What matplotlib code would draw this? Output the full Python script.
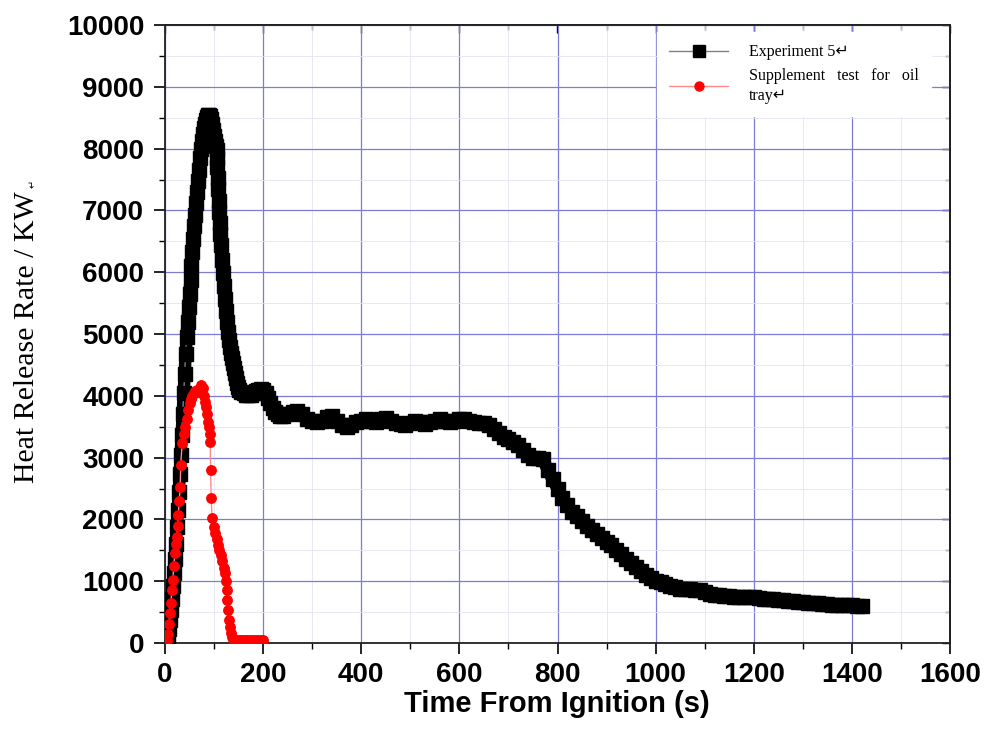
import matplotlib
matplotlib.use("Agg")
import matplotlib.pyplot as plt
from matplotlib.ticker import MultipleLocator, NullFormatter
from matplotlib.font_manager import FontProperties

# ---------------- data ----------------
exp5_time = [4, 6, 8, 10, 12, 14, 16, 18, 20, 22, 24, 26, 28, 30, 32, 34, 36, 38, 40, 42,
             44, 46, 48, 50, 52, 54, 56, 58, 60, 62, 64, 66, 68, 70, 72, 74, 76, 78, 80, 82,
             84, 86, 88, 90, 92, 94, 96, 98, 100, 102, 104,
             105, 106, 107, 108, 109, 110, 111, 112, 113, 114,
             116, 118, 120, 122, 124, 126, 128, 130, 132, 134, 136, 138, 140, 142, 144, 146, 148, 150,
             155, 160, 165, 170, 175, 180, 185, 190, 195, 200, 205, 210, 215, 220, 225, 230, 235, 240,
             250, 260, 270, 280, 290, 300, 310, 320, 330, 340, 350, 360, 370, 380, 390, 400,
             410, 420, 430, 440, 450, 460, 470, 480, 490, 500, 510, 520, 530, 540, 550, 560,
             570, 580, 590, 600, 610, 620, 630, 640, 650, 660, 670, 680, 690, 700, 710, 720,
             730, 740, 750, 760, 770, 780, 790, 800, 810, 820, 830, 840, 850, 860, 870, 880,
             890, 900, 910, 920, 930, 940, 950, 960, 970, 980, 990, 1000, 1010, 1020, 1030, 1040,
             1050, 1060, 1070, 1080, 1090, 1100, 1110, 1120, 1130, 1140, 1150, 1160, 1170, 1180,
             1190, 1200, 1210, 1220, 1230, 1240, 1250, 1260, 1270, 1280, 1290, 1300, 1310, 1320,
             1330, 1340, 1350, 1360, 1370, 1380, 1390, 1400, 1410, 1420]
exp5_hrr = [0, 100, 230, 380, 540, 720, 920, 1130, 1360, 1600, 1870, 2150, 2440, 2740, 3050, 3370,
            3700, 4040, 4360, 4670, 4950, 5200, 5430, 5650, 5870, 6100, 6330, 6540, 6740, 6930,
            7120, 7300, 7480, 7660, 7840, 8000, 8130, 8240, 8330, 8400, 8460, 8510, 8540, 8550,
            8530, 8480, 8400, 8300, 8200, 8120, 8040,
            7980, 7850, 7700, 7520, 7340, 7160, 6980, 6800, 6620, 6440,
            6200, 5980, 5770, 5570, 5380, 5200, 5040, 4900, 4790, 4690, 4610, 4530, 4450, 4370,
            4290, 4210, 4140, 4090,
            4060, 4040, 4020, 4010, 4020, 4040, 4070, 4100, 4110, 4090, 4040, 3960, 3880, 3800,
            3740, 3700, 3680, 3670,
            3700, 3740, 3760, 3700, 3620, 3600, 3580, 3600, 3650, 3680, 3600, 3520, 3500, 3520,
            3580, 3600, 3620, 3600, 3580, 3620, 3640, 3600, 3560, 3540, 3520, 3560, 3600, 3580,
            3550, 3580, 3600, 3620, 3590, 3570, 3600, 3620, 3630, 3600, 3580, 3560, 3560, 3520,
            3460, 3400, 3340, 3300, 3250, 3200, 3120, 3040, 3000, 3000, 2980, 2800, 2650, 2500,
            2350, 2230, 2120, 2050, 1980, 1900, 1830, 1770, 1700, 1630, 1580, 1510, 1440, 1360,
            1290, 1230, 1170, 1100, 1050, 1010, 980, 950, 920, 900, 880, 870, 870, 860, 850, 830,
            800, 780, 770, 760, 760, 750, 740, 740, 740, 740, 730, 720, 720, 710, 700, 690, 680,
            680, 670, 660, 650, 640, 640, 630, 630, 620, 620, 615, 610, 610, 605, 600]

oil_time = [4, 6, 8, 10, 12, 14, 16, 18, 20, 22, 24, 26, 27, 29, 31, 32, 35, 38, 41, 44, 47,
            50, 53, 56, 59, 62, 65, 68, 71, 74, 77, 79, 81, 83, 85, 87, 89, 91, 92, 93, 94, 96,
            99, 102, 105, 108, 111, 114, 117, 120, 122, 124, 126, 127, 128, 130, 132, 134, 136,
            138, 141, 145, 150, 155, 160, 165, 170, 175, 180, 185, 190, 195, 200]
oil_hrr = [50, 150, 300, 480, 650, 850, 1020, 1250, 1450, 1600, 1720, 1900, 2070, 2300, 2530,
           2880, 3230, 3380, 3500, 3620, 3770, 3880, 3950, 4000, 4050, 4080, 4090, 4060, 4120,
           4170, 4120, 4000, 3900, 3820, 3700, 3580, 3500, 3380, 3250, 2800, 2350, 2020, 1880,
           1780, 1680, 1580, 1500, 1420, 1330, 1220, 1130, 1000, 860, 700, 530, 380, 260, 160,
           100, 60, 50, 50, 50, 50, 50, 50, 50, 50, 50, 50, 50, 50, 50]

label_exp5 = "Experiment 5\u21b5"
label_oil = "Supplement   test   for   oil\ntray\u21b5"
x_label = "Time From Ignition (s)"
y_label = "Heat Release Rate / KW"

# ---------------- figure ----------------
W, H = 988, 749
fig = plt.figure(figsize=(W / 100, H / 100), dpi=100)
fig.patch.set_facecolor("white")
ax = fig.add_axes([165 / W, 1 - 643 / H, 785 / W, 618 / H])

# dense black band (marker trail) under the square markers
ax.plot(exp5_time, exp5_hrr, color="black", lw=9.0, solid_capstyle="butt",
        solid_joinstyle="round", zorder=2.5)
ax.plot(exp5_time, exp5_hrr, color="#808080", lw=1.0, marker="s", ms=9.5,
        mfc="black", mec="black", label=label_exp5, zorder=3)
ax.plot(oil_time, oil_hrr, color="#ff8a8a", lw=1.0, marker="o", ms=6.8,
        mfc="#ff0000", mec="#ff0000", label=label_oil, zorder=4)

ax.set_xlim(0, 1600)
ax.set_ylim(0, 10000)
ax.xaxis.set_major_locator(MultipleLocator(200))
ax.xaxis.set_minor_locator(MultipleLocator(100))
ax.yaxis.set_major_locator(MultipleLocator(1000))
ax.yaxis.set_minor_locator(MultipleLocator(500))

ax.set_axisbelow(True)
ax.grid(which="major", color="#7c7cd6", lw=0.9)
ax.grid(which="minor", color="#e4e4f2", lw=0.6)

for sp in ax.spines.values():
    sp.set_linewidth(1.3)
    sp.set_color("#222222")

ax.tick_params(which="major", direction="out", length=8, width=1.2, pad=6)
ax.tick_params(which="minor", direction="out", length=4.5, width=1.0)
ax.tick_params(axis="y", which="major", pad=7)
for lab in ax.get_xticklabels() + ax.get_yticklabels():
    lab.set_fontfamily("Liberation Sans")
    lab.set_fontweight("bold")
    lab.set_fontsize(20)

# inward ticks on top and right
secx = ax.secondary_xaxis("top")
secx.xaxis.set_major_locator(MultipleLocator(200))
secx.xaxis.set_minor_locator(MultipleLocator(100))
secx.xaxis.set_major_formatter(NullFormatter())
secx.tick_params(which="major", direction="in", length=6, width=1.0)
secx.tick_params(which="minor", direction="in", length=3.5, width=0.9)
secx.spines["top"].set_linewidth(1.3)
secy = ax.secondary_yaxis("right")
secy.yaxis.set_major_locator(MultipleLocator(1000))
secy.yaxis.set_minor_locator(MultipleLocator(500))
secy.yaxis.set_major_formatter(NullFormatter())
secy.tick_params(which="major", direction="in", length=6, width=1.0)
secy.tick_params(which="minor", direction="in", length=3.5, width=0.9)
secy.spines["right"].set_linewidth(1.3)

# legend
leg_font = FontProperties(family=["Liberation Serif", "DejaVu Sans"], size=11.5)
leg = ax.legend(loc="upper left", bbox_to_anchor=(0.627, 0.988), prop=leg_font,
                frameon=True, fancybox=False, facecolor="white", edgecolor="white",
                framealpha=1.0, handlelength=3.7, handletextpad=1.3, labelspacing=0.45,
                borderpad=0.75, numpoints=1, markerscale=0.95, borderaxespad=0)
leg.set_zorder(6)
for txt in leg.get_texts():
    txt.set_linespacing(1.35)

# axis labels
fig.text(557 / W, 1 - 704 / H, x_label, ha="center", va="center",
         fontfamily="Liberation Sans", fontweight="bold", fontsize=21)
ylab = fig.text(27 / W, 1 - 337 / H, y_label, ha="center", va="center", rotation=90,
                fontfamily="Liberation Serif", fontsize=21.5)
fig.canvas.draw()
bb = ylab.get_window_extent(fig.canvas.get_renderer())
fig.text(33 / W, (bb.y1 + 3) / H, "\u21b5", ha="center", va="bottom", rotation=90,
         fontfamily="DejaVu Sans", fontsize=7)

fig.savefig("out.png", dpi=100, facecolor="white")
